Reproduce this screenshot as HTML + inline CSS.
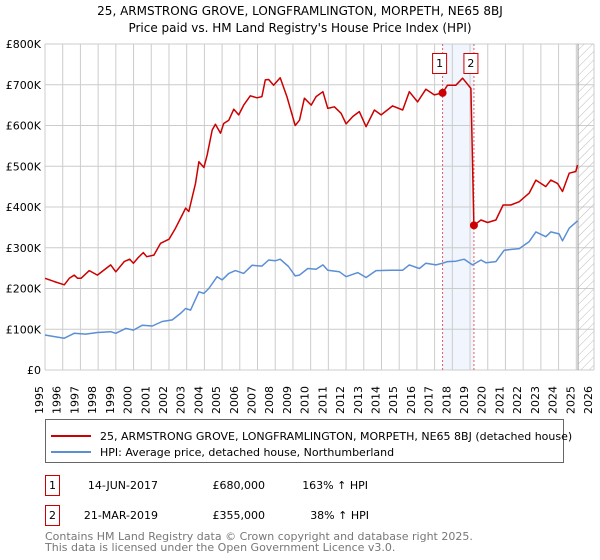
<!DOCTYPE html>
<html><head><meta charset="utf-8"><style>
body{margin:0;background:#fff;font-family:"DejaVu Sans","Liberation Sans",sans-serif;}
svg{display:block}
</style></head><body>
<svg id="chart" width="600" height="560" viewBox="0 0 600 560" xmlns="http://www.w3.org/2000/svg" font-family="DejaVu Sans, Liberation Sans, sans-serif">
<defs>
<pattern id="hatch" width="6" height="6" patternUnits="userSpaceOnUse" patternTransform="rotate(45)"><line x1="0" y1="0" x2="0" y2="6" stroke="#bbb" stroke-width="1"/></pattern>
</defs>
<text x="300" y="15" text-anchor="middle" font-size="12" fill="#000">25, ARMSTRONG GROVE, LONGFRAMLINGTON, MORPETH, NE65 8BJ</text>
<text x="300" y="32" text-anchor="middle" font-size="12" fill="#000">Price paid vs. HM Land Registry's House Price Index (HPI)</text>
<g id="grid"></g>
<g id="marks"></g>
<g id="axes"></g>
<g font-size="11" fill="#000">
<text transform="translate(43.0,414) rotate(-90)">1995</text>
<text transform="translate(60.7,414) rotate(-90)">1996</text>
<text transform="translate(78.4,414) rotate(-90)">1997</text>
<text transform="translate(96.1,414) rotate(-90)">1998</text>
<text transform="translate(113.8,414) rotate(-90)">1999</text>
<text transform="translate(131.5,414) rotate(-90)">2000</text>
<text transform="translate(149.3,414) rotate(-90)">2001</text>
<text transform="translate(167.0,414) rotate(-90)">2002</text>
<text transform="translate(184.7,414) rotate(-90)">2003</text>
<text transform="translate(202.4,414) rotate(-90)">2004</text>
<text transform="translate(220.1,414) rotate(-90)">2005</text>
<text transform="translate(237.8,414) rotate(-90)">2006</text>
<text transform="translate(255.5,414) rotate(-90)">2007</text>
<text transform="translate(273.2,414) rotate(-90)">2008</text>
<text transform="translate(290.9,414) rotate(-90)">2009</text>
<text transform="translate(308.6,414) rotate(-90)">2010</text>
<text transform="translate(326.4,414) rotate(-90)">2011</text>
<text transform="translate(344.1,414) rotate(-90)">2012</text>
<text transform="translate(361.8,414) rotate(-90)">2013</text>
<text transform="translate(379.5,414) rotate(-90)">2014</text>
<text transform="translate(397.2,414) rotate(-90)">2015</text>
<text transform="translate(414.9,414) rotate(-90)">2016</text>
<text transform="translate(432.6,414) rotate(-90)">2017</text>
<text transform="translate(450.3,414) rotate(-90)">2018</text>
<text transform="translate(468.0,414) rotate(-90)">2019</text>
<text transform="translate(485.7,414) rotate(-90)">2020</text>
<text transform="translate(503.5,414) rotate(-90)">2021</text>
<text transform="translate(521.2,414) rotate(-90)">2022</text>
<text transform="translate(538.9,414) rotate(-90)">2023</text>
<text transform="translate(556.6,414) rotate(-90)">2024</text>
<text transform="translate(574.3,414) rotate(-90)">2025</text>
<text transform="translate(592.0,414) rotate(-90)">2026</text>
</g>
<g>
<rect x="45.5" y="419.5" width="518" height="43" fill="#fff" stroke="#666"/>
<line x1="51" y1="436" x2="91" y2="436" stroke="#cc0000" stroke-width="2"/>
<text x="100" y="440" font-size="11" fill="#000">25, ARMSTRONG GROVE, LONGFRAMLINGTON, MORPETH, NE65 8BJ (detached house)</text>
<line x1="51" y1="452" x2="91" y2="452" stroke="#5b8fd4" stroke-width="2"/>
<text x="100" y="456" font-size="11" fill="#000">HPI: Average price, detached house, Northumberland</text>
</g>
<g>
<rect x="45.5" y="475.5" width="14" height="20" fill="#fff" stroke="#cc0000"/>
<text x="52.5" y="489" text-anchor="middle" font-size="11">1</text>
<text x="158" y="489" text-anchor="end" font-size="11">14-JUN-2017</text>
<text x="265" y="489" text-anchor="end" font-size="11">£680,000</text>
<text x="368" y="489" text-anchor="end" font-size="11">163% ↑ HPI</text>
<rect x="45.5" y="505.5" width="14" height="20" fill="#fff" stroke="#cc0000"/>
<text x="52.5" y="519" text-anchor="middle" font-size="11">2</text>
<text x="158" y="519" text-anchor="end" font-size="11">21-MAR-2019</text>
<text x="265" y="519" text-anchor="end" font-size="11">£355,000</text>
<text x="369" y="519" text-anchor="end" font-size="11">38% ↑ HPI</text>
</g>
<text x="45" y="540" font-size="11" fill="#777">Contains HM Land Registry data © Crown copyright and database right 2025.</text>
<text x="45" y="551" font-size="11" fill="#777">This data is licensed under the Open Government Licence v3.0.</text>
</svg>
<script>
const yearTicks=[1995,1996,1997,1998,1999,2000,2001,2002,2003,2004,2005,2006,2007,2008,2009,2010,2011,2012,2013,2014,2015,2016,2017,2018,2019,2020,2021,2022,2023,2024,2025,2026];
const valueTicks=[0,100,200,300,400,500,600,700,800];
const valueTickLabels=["£0","£100K","£200K","£300K","£400K","£500K","£600K","£700K","£800K"];
const propYears=[1995.0,1995.53,1996.09,1996.37,1996.65,1996.84,1997.03,1997.5,1997.96,1998.71,1999.0,1999.47,1999.78,1999.99,2000.27,2000.55,2000.74,2001.15,2001.53,2002.0,2002.37,2002.65,2002.94,2003.12,2003.5,2003.69,2003.97,2004.16,2004.44,2004.62,2004.91,2005.09,2005.38,2005.66,2005.94,2006.22,2006.59,2006.97,2007.25,2007.44,2007.63,2007.91,2008.28,2008.66,2009.13,2009.37,2009.65,2010.03,2010.31,2010.69,2010.97,2011.34,2011.72,2012.0,2012.38,2012.75,2013.13,2013.6,2013.98,2014.63,2015.2,2015.57,2016.04,2016.51,2016.98,2017.45,2017.73,2018.2,2018.58,2019.05,2019.22,2019.62,2019.99,2020.46,2020.87,2021.3,2021.78,2022.34,2022.72,2023.28,2023.56,2023.94,2024.22,2024.6,2024.97,2025.07];
const propValues=[225,217,209,225,233,225,225,244,233,258,241,266,272,262,276,288,278,282,311,321,348,372,397,389,458,511,497,528,589,603,581,605,613,640,626,650,673,668,671,712,713,699,717,671,600,613,667,650,671,683,642,646,630,604,622,634,597,638,626,648,638,683,658,689,675,680,699,699,716,691,355,368,362,368,405,405,413,434,466,450,466,458,438,483,487,503];
const hpiYears=[1995.0,1995.53,1996.09,1996.65,1997.3,1997.96,1998.71,1999.0,1999.56,1999.99,2000.5,2001.06,2001.62,2002.19,2002.65,2002.94,2003.22,2003.69,2003.97,2004.25,2004.72,2005.0,2005.38,2005.75,2006.22,2006.69,2007.25,2007.63,2008.0,2008.28,2008.75,2009.13,2009.37,2009.84,2010.31,2010.69,2010.97,2011.63,2012.0,2012.66,2013.13,2013.69,2014.54,2015.2,2015.57,2016.14,2016.51,2017.08,2017.45,2017.73,2018.2,2018.67,2019.14,2019.62,2019.9,2020.46,2020.93,2021.78,2022.34,2022.72,2023.28,2023.56,2024.03,2024.22,2024.6,2025.07];
const hpiValues=[86,82,78,90,88,92,94,90,102,98,110,108,119,123,139,151,147,192,188,200,229,221,237,244,237,257,255,270,268,272,254,231,233,249,247,258,245,241,229,239,227,244,245,245,258,249,262,258,262,266,267,272,258,270,263,266,294,298,315,339,327,339,334,317,348,366];
const sales=[{t:2017.45,v:680,n:"1"},{t:2019.22,v:355,n:"2"}];
const L=45,R=594,T=44,B=370,X0=1995,X1=2026,VMAX=800;
const xs=t=>L+(t-X0)/(X1-X0)*(R-L);
const ys=v=>B-v/VMAX*(B-T);
const NS="http://www.w3.org/2000/svg";
function mk(parent,tag,attrs){const e=document.createElementNS(NS,tag);for(const k in attrs)e.setAttribute(k,attrs[k]);parent.appendChild(e);return e;}
const grid=document.getElementById('grid'),marks=document.getElementById('marks'),axes=document.getElementById('axes');
let band=mk(grid,'rect',{x:xs(sales[0].t),y:T,width:xs(sales[1].t)-xs(sales[0].t),height:B-T,fill:'#eef3fc',opacity:0.8});


yearTicks.forEach(y=>{const g=mk(grid,'line',{x1:xs(y),x2:xs(y),y1:T,y2:B,stroke:'#cccccc','stroke-width':1});

});
valueTicks.forEach((v,i)=>{const g=mk(grid,'line',{x1:L,x2:R,y1:ys(v),y2:ys(v),stroke:'#cccccc','stroke-width':1});


const tx=mk(axes,'text',{x:L-4,y:ys(v)+4,'font-size':11,'text-anchor':'end',fill:'#000'});tx.textContent=valueTickLabels[i];

});
const hx=xs(2025.1);
let hatch=mk(grid,'rect',{x:hx,y:T,width:R-hx,height:B-T,fill:'url(#hatch)'});


mk(grid,'line',{x1:hx,x2:hx,y1:T,y2:B,stroke:'#999','stroke-width':1});
sales.forEach(s=>{const l=mk(grid,'line',{x1:xs(s.t),x2:xs(s.t),y1:T,y2:B,stroke:'#e06060','stroke-width':1,'stroke-dasharray':'2,2'});

});
function path(xa,va){return xa.map((t,i)=>(i?'L':'M')+xs(t).toFixed(1)+','+ys(va[i]).toFixed(1)).join('');}
let hp=mk(marks,'path',{d:path(hpiYears,hpiValues),fill:'none',stroke:'#5b8fd4','stroke-width':1.5,'stroke-linejoin':'round'});


let pp=mk(marks,'path',{d:path(propYears,propValues),fill:'none',stroke:'#cc0000','stroke-width':1.5,'stroke-linejoin':'round'});


sales.forEach(s=>{const c=mk(marks,'circle',{cx:xs(s.t),cy:ys(s.v),r:4,fill:'#cc0000'});


const bx=xs(s.t)-10;const r=mk(marks,'rect',{x:bx,y:53.5,width:14,height:20,fill:'#fff',stroke:'#cc0000'});


const tx=mk(marks,'text',{x:bx+7,y:67,'font-size':11,'text-anchor':'middle'});tx.textContent=s.n;});
</script>
</body></html>
